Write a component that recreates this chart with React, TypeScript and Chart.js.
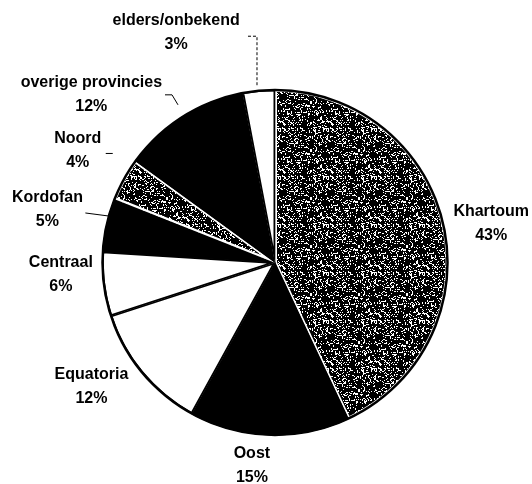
import React, { useEffect, useRef } from "react";
import { Chart, registerables } from "chart.js";

Chart.register(...registerables);

// ---- data ----
const categories = [
  "Khartoum",
  "Oost",
  "Equatoria",
  "Centraal",
  "Kordofan",
  "Noord",
  "overige provincies",
  "elders/onbekend",
];
const percentages = [43, 15, 12, 6, 5, 4, 12, 3];
const percentLabels = ["43%", "15%", "12%", "6%", "5%", "4%", "12%", "3%"];

// ---- layout / style (not data) ----
const sliceFills = ["stipple", "black", "white", "white", "black", "stipple", "black", "white"];
// [radius factor, angle shift in degrees] for each label block
const labelPlacement: number[][] = [
  [1.27, 2.3],
  [1.18, 4.7],
  [1.28, 5.6],
  [1.24, 3.9],
  [1.35, 0.4],
  [1.31, 0.7],
  [1.44, -15.1],
  [1.445, -17.9],
];
// leader lines: anchor on slice (angle shift, radius factor) then relative steps
const leaderLines: Record<number, { shift: number; k: number; path: number[][]; dash?: number[] }> = {
  7: { shift: -0.4, k: 1.03, path: [[0, -49], [-10, 0]], dash: [3, 2] },
  6: { shift: 0.8, k: 1.07, path: [[-6, -10], [-7, 0]] },
  5: { shift: 5.1, k: 1.13, path: [[-7, 0]] },
  4: { shift: 3, k: 1.0, path: [[-23, -3]] },
};

const FONT = "bold 16px 'Liberation Sans', Arial, sans-serif";
const LINE_GAP = 24;

// texture tile for the stippled slices (style only)
function makeStipple(): CanvasPattern | string {
  const S = 48;
  const c = document.createElement("canvas");
  c.width = S;
  c.height = S;
  const g = c.getContext("2d");
  if (!g) return "#333";
  g.fillStyle = "#000";
  g.fillRect(0, 0, S, S);
  g.fillStyle = "#fff";
  let seed = 12345;
  const next = () => {
    seed = (seed * 1103515245 + 12345) & 0x7fffffff;
    return seed / 0x7fffffff;
  };
  for (let y = 0; y < S; y++) {
    for (let x = 0; x < S; x++) {
      const r = next();
      if (r < 0.13) g.fillRect(x, y, 1, 1);
      else if (r < 0.16) g.fillRect(x, y, 2, 1);
      else if (r < 0.18) g.fillRect(x, y, 1, 2);
    }
  }
  return g.createPattern(c, "repeat") || "#333";
}

export default function App() {
  const ref = useRef<HTMLCanvasElement | null>(null);

  useEffect(() => {
    if (!ref.current) return;
    const stipple = makeStipple();
    const bg = sliceFills.map((f) => (f === "stipple" ? stipple : f === "black" ? "#000" : "#fff"));
    const bc = sliceFills.map((f) => (f === "stipple" ? "#fff" : "#000"));
    const bw = sliceFills.map((f) => (f === "stipple" ? 2 : 1.5));

    const outlinePlugin = {
      id: "outline",
      afterDatasetsDraw(chart: any) {
        const meta = chart.getDatasetMeta(0);
        const arc = meta.data[0];
        if (!arc) return;
        const { x, y, outerRadius } = arc.getProps(["x", "y", "outerRadius"], true);
        const ctx = chart.ctx;
        ctx.save();
        ctx.strokeStyle = "#000";
        ctx.lineWidth = 2.5;
        ctx.beginPath();
        ctx.arc(x, y, outerRadius - 0.5, 0, Math.PI * 2);
        ctx.stroke();
        ctx.restore();
      },
    };

    const labelPlugin = {
      id: "pieLabels",
      afterDraw(chart: any) {
        const meta = chart.getDatasetMeta(0);
        const ctx = chart.ctx;
        ctx.save();
        ctx.font = FONT;
        ctx.fillStyle = "#000";
        ctx.textAlign = "center";
        ctx.textBaseline = "middle";
        meta.data.forEach((el: any, i: number) => {
          const { x, y, startAngle, endAngle, outerRadius } = el.getProps(
            ["x", "y", "startAngle", "endAngle", "outerRadius"],
            true
          );
          const mid = (startAngle + endAngle) / 2;
          const [k, shift] = labelPlacement[i];
          const a = mid + (shift * Math.PI) / 180;
          const lx = x + Math.cos(a) * outerRadius * k;
          const ly = y + Math.sin(a) * outerRadius * k;
          ctx.fillText(categories[i], lx, ly - LINE_GAP / 2);
          ctx.fillText(percentLabels[i], lx, ly + LINE_GAP / 2);

          const ld = leaderLines[i];
          if (ld) {
            const aa = mid + (ld.shift * Math.PI) / 180;
            let px = x + Math.cos(aa) * outerRadius * ld.k;
            let py = y + Math.sin(aa) * outerRadius * ld.k;
            ctx.beginPath();
            ctx.strokeStyle = "#000";
            ctx.lineWidth = 1;
            ctx.setLineDash(ld.dash || []);
            ctx.moveTo(px, py);
            ld.path.forEach(([dx, dy]) => {
              px += dx;
              py += dy;
              ctx.lineTo(px, py);
            });
            ctx.stroke();
            ctx.setLineDash([]);
          }
        });
        ctx.restore();
      },
    };

    const chart = new Chart(ref.current, {
      type: "pie",
      data: {
        labels: categories,
        datasets: [
          {
            data: percentages,
            backgroundColor: bg as any,
            borderColor: bc,
            borderWidth: bw,
            borderAlign: "inner",
            radius: 173,
          } as any,
        ],
      },
      options: {
        responsive: false,
        animation: false,
        layout: { padding: { left: 102, right: 84, top: 89.5, bottom: 48.5 } },
        plugins: {
          legend: { display: false },
          tooltip: { enabled: false },
        },
      },
      plugins: [outlinePlugin, labelPlugin],
    });
    return () => chart.destroy();
  }, []);

  return (
    <div style={{ position: "fixed", left: 0, top: 0, width: 532, height: 484, background: "#fff" }}>
      <canvas ref={ref} width={532} height={484} style={{ display: "block" }} />
    </div>
  );
}
